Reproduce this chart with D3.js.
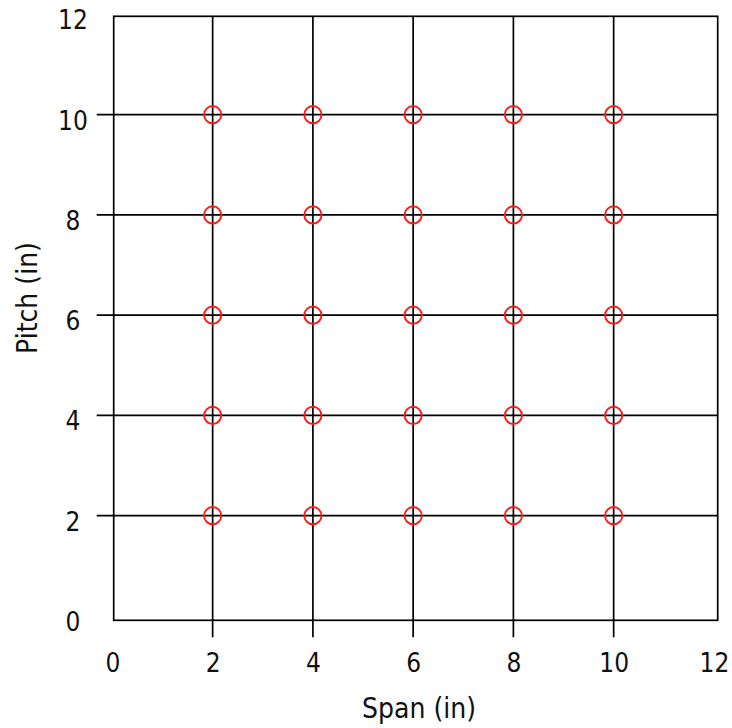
<!DOCTYPE html>
<html>
<head>
<meta charset="utf-8">
<script src="https://cdn.jsdelivr.net/npm/d3@7"></script>
<style>
  html, body { margin: 0; padding: 0; background: #fff; }
  svg { display: block; }
  text { font-family: "DejaVu Sans Condensed", "DejaVu Sans", sans-serif; fill: #111; }
</style>
</head>
<body>
<div id="chart"></div>
<script>
// Grid of sample positions: span (x) by pitch (y), in inches
const spanValues = [2, 4, 6, 8, 10];
const pitchValues = [2, 4, 6, 8, 10];
const tickLabels = [0, 2, 4, 6, 8, 10, 12];
const gridLines = [2, 4, 6, 8, 10];
const axisDomain = [0, 12];
const xTitle = "Span (in)";
const yTitle = "Pitch (in)";

const W = 732, H = 728;
// plot box (frame) in page pixels
const box = { left: 113.7, right: 717.7, top: 16.3, bottom: 620.3 };

const points = [];
pitchValues.forEach(p => spanValues.forEach(s => points.push({ span: s, pitch: p })));

const svg = d3.select("#chart").append("svg")
  .attr("width", W).attr("height", H);

const x = d3.scaleLinear().domain(axisDomain).range([112.4, 713.9]);
const y = d3.scaleLinear().domain(axisDomain).range([615.9, 14.4]);

const tickLen = 17;
const lineW = 1.7;
const fontSize = 26;

// vertical grid lines, extended below the frame as ticks
svg.append("g").selectAll("line").data(gridLines).join("line")
  .attr("x1", d => x(d)).attr("x2", d => x(d))
  .attr("y1", box.top).attr("y2", box.bottom + tickLen)
  .attr("stroke", "#000").attr("stroke-width", lineW);

// horizontal grid lines, extended left of the frame as ticks
svg.append("g").selectAll("line").data(gridLines).join("line")
  .attr("y1", d => y(d)).attr("y2", d => y(d))
  .attr("x1", box.left - tickLen).attr("x2", box.right)
  .attr("stroke", "#000").attr("stroke-width", lineW);

// frame
svg.append("rect")
  .attr("x", box.left).attr("y", box.top)
  .attr("width", box.right - box.left).attr("height", box.bottom - box.top)
  .attr("fill", "none").attr("stroke", "#000").attr("stroke-width", lineW);

// tick labels
const xAxis = svg.append("g")
  .attr("transform", `translate(0,${box.bottom})`)
  .call(d3.axisBottom(x).tickValues(tickLabels).tickSize(0).tickFormat(d3.format("d")));
xAxis.select(".domain").remove();
xAxis.selectAll("text")
  .attr("y", 51.7).attr("dy", 0)
  .style("font-size", fontSize + "px")
  .style("font-family", '"DejaVu Sans Condensed", "DejaVu Sans", sans-serif')
  .attr("fill", "#111");

const yAxis = svg.append("g")
  .attr("transform", `translate(${box.left},5)`)
  .call(d3.axisLeft(y).tickValues(tickLabels).tickSize(0).tickFormat(d3.format("d")));
yAxis.select(".domain").remove();
yAxis.selectAll("text")
  .attr("x", 73 - box.left).attr("dy", "0.36em")
  .attr("text-anchor", "middle")
  .style("font-size", fontSize + "px")
  .style("font-family", '"DejaVu Sans Condensed", "DejaVu Sans", sans-serif')
  .attr("fill", "#111");

// titles
svg.append("text")
  .attr("x", 419).attr("y", 718)
  .attr("text-anchor", "middle")
  .style("font-size", "28px")
  .text(xTitle);

svg.append("text")
  .attr("transform", `translate(37,298) rotate(-90)`)
  .attr("text-anchor", "middle")
  .style("font-size", "28px")
  .text(yTitle);

// sample points
svg.append("g").selectAll("circle").data(points).join("circle")
  .attr("cx", d => x(d.span)).attr("cy", d => y(d.pitch))
  .attr("r", 8.6)
  .attr("fill", "none")
  .attr("stroke", "#ff1a1a")
  .attr("stroke-width", 1.9);
</script>
</body>
</html>
